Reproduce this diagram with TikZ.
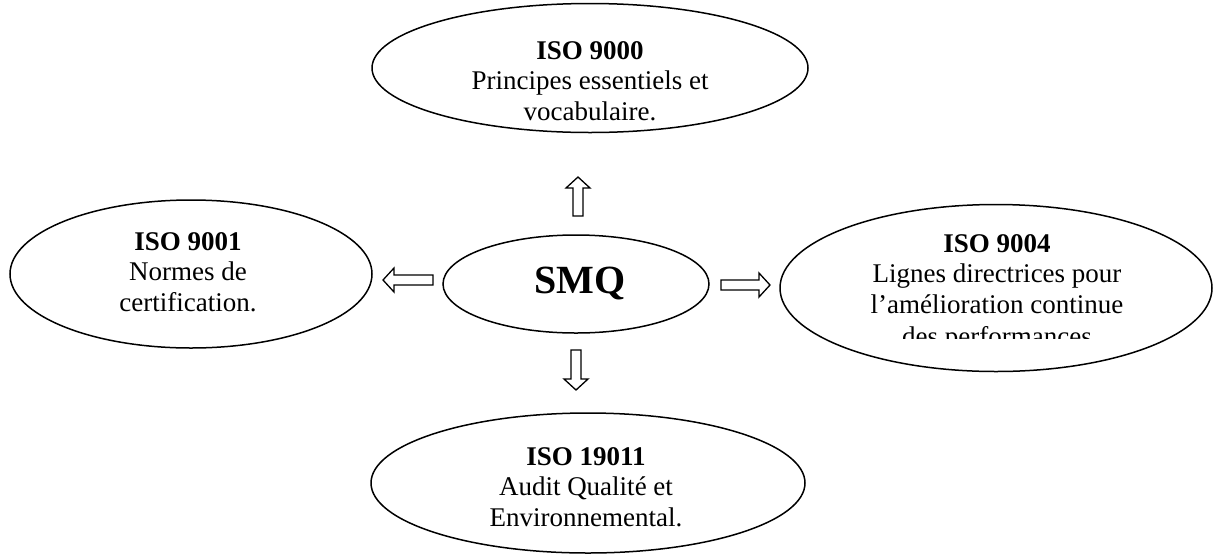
\documentclass[tikz,border=0pt]{standalone}
\usepackage{fontspec}
\setmainfont{Liberation Serif}
\usetikzlibrary{shapes.geometric,calc}

% hollow block arrow from a tail coordinate (#1) to a tip coordinate (#2)
\newcommand\hollowarrow[2]{%
  \coordinate (ah) at ($(#2)!11pt!(#1)$);
  \draw[blockarrow] ($(#1)!5pt!90:(#2)$) -- ($(ah)!5pt!90:(#2)$)
    -- ($(ah)!12pt!90:(#2)$) -- (#2) -- ($(ah)!12pt!-90:(#2)$)
    -- ($(ah)!5pt!-90:(#2)$) -- ($(#1)!5pt!-90:(#2)$) -- cycle;}

\begin{document}
\begin{tikzpicture}[x=1pt,y=-1pt,
  oval/.style={draw, ellipse, line width=1.5pt, inner sep=0pt},
  txt/.style={align=center, inner sep=0pt, font=\fontsize{27}{30.5}\selectfont},
  blockarrow/.style={draw, line width=1.3pt, line join=miter, fill=white}]
\useasboundingbox (0,0) rectangle (1213,558);

% the five ellipses
\node[oval, minimum width=436pt, minimum height=129pt] (e9000) at (590,68) {};
\node[oval, minimum width=362pt, minimum height=148pt] (e9001) at (191,274) {};
\node[oval, minimum width=266pt, minimum height=98pt]  (smq)   at (576,284) {};
\node[oval, minimum width=432pt, minimum height=167pt] (e9004) at (996,288) {};
\node[oval, minimum width=434pt, minimum height=140pt] (e19011) at (588,483) {};

% texts
\node[txt] (l9000) at (590,81) {\textbf{ISO 9000}\\Principes essentiels et\\vocabulaire.};
\node[txt] (l9001) at (188,272) {\textbf{ISO 9001}\\Normes de\\certification.};
\node[txt, font=\fontsize{40}{44}\selectfont\bfseries] (lsmq) at (580,283) {SMQ};
\node[txt] (l9004) at (997,274) {\textbf{ISO 9004}\\Lignes directrices pour\\l'amélioration continue};
\begin{scope}
  \clip (780,300) rectangle (1213,338);
  \node[txt, anchor=base] (l9004b) at (997,345) {des performances};
\end{scope}
\node[txt] (l19011) at (586,487) {\textbf{ISO 19011}\\Audit Qualité et\\Environnemental.};

% arrow end points
\coordinate (upT) at (578,216);   \coordinate (upH) at (578,177);
\coordinate (dnT) at (576,350);   \coordinate (dnH) at (576,390);
\coordinate (rtT) at (721,285);   \coordinate (rtH) at (770,285);
\coordinate (ltT) at (433,280);   \coordinate (ltH) at (383,280);

\hollowarrow{upT}{upH}
\hollowarrow{dnT}{dnH}
\hollowarrow{rtT}{rtH}
\hollowarrow{ltT}{ltH}
\end{tikzpicture}
\end{document}
